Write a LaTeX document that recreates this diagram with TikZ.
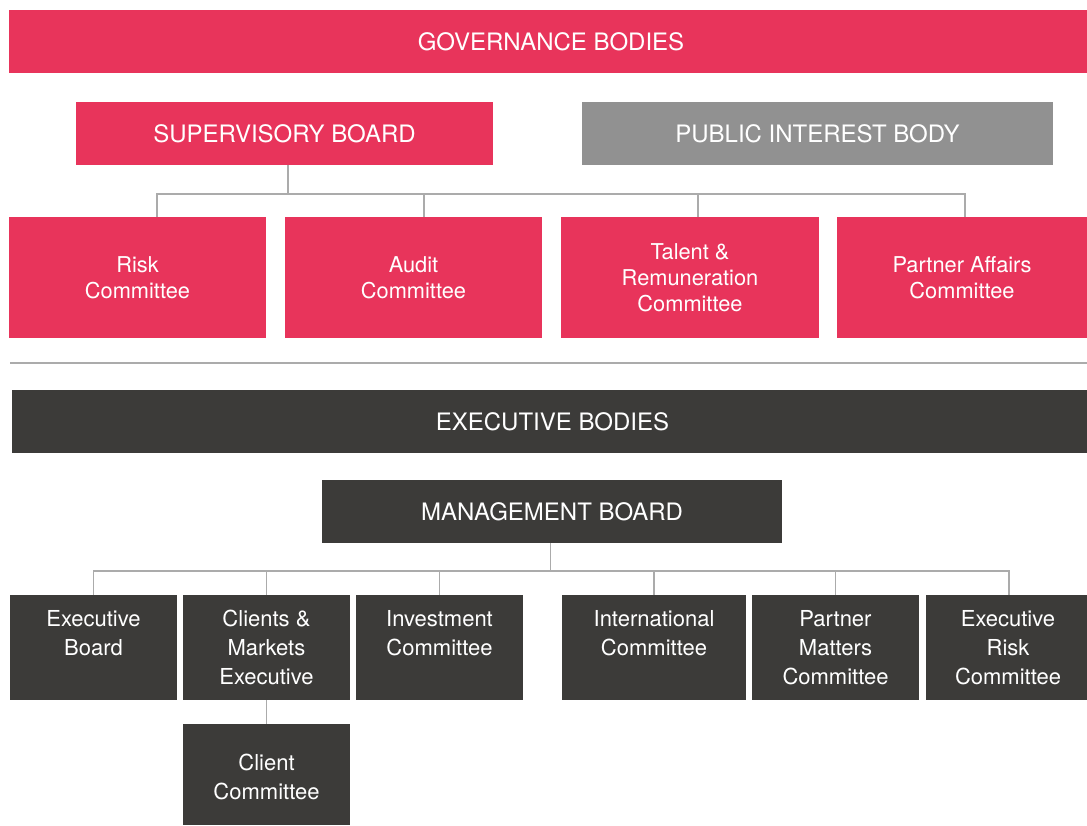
\documentclass[tikz,border=0pt]{standalone}
\usepackage{fontspec}
\setmainfont{TeX Gyre Heros}
\usetikzlibrary{calc}

\definecolor{govred}{HTML}{E8345B}
\definecolor{exgrey}{HTML}{3C3B39}
\definecolor{pibgrey}{HTML}{919191}
\definecolor{linegrey}{HTML}{ABABAB}

\newcommand{\headfont}{\fontsize{24}{28}\selectfont}
\newcommand{\topfont}{\fontsize{21.8}{26}\selectfont}
\newcommand{\lowfont}{\fontsize{22}{29}\selectfont}

\begin{document}
\begin{tikzpicture}[x=1pt, y=-1pt,
    box/.style={inner sep=0pt, outer sep=0pt, text=white, align=center},
    govbox/.style={box, fill=govred},
    exbox/.style={box, fill=exgrey},
    head/.style={font=\headfont, minimum height=63},
    topbox/.style={govbox, font=\topfont, minimum height=121},
    lowtext/.style={inner sep=0pt, anchor=north, text=white, align=center, font=\lowfont},
    lowbox/.style={exbox, minimum height=105,
        label={[lowtext, yshift=-15pt]north:{#1}}},
    conn/.style={draw=linegrey, line width=1.3pt}]

    \useasboundingbox (0,0) rectangle (1087,825);

    % governance side
    \node[govbox, head, minimum width=1078] (gov) at (548,41.5) {\hspace*{6pt}GOVERNANCE BODIES};
    \node[govbox, head, minimum width=417] (sb) at (284.5,133.5) {SUPERVISORY BOARD};
    \node[box, fill=pibgrey, head, minimum width=471] (pib) at (817.5,133.5) {PUBLIC INTEREST BODY};

    \node[topbox, minimum width=257] (rc) at (137.5,277.5) {Risk\\Committee};
    \node[topbox, minimum width=257] (ac) at (413.5,277.5) {Audit\\Committee};
    \node[topbox, minimum width=258] (trc) at (690,277.5) {Talent \&\\Remuneration\\Committee};
    \node[topbox, minimum width=250] (pac) at (962,277.5) {Partner Affairs\\Committee};

    \coordinate (gbus) at (0,194);
    \coordinate (sb-out) at ([xshift=3.5pt]sb.south);
    \coordinate (rc-in) at ([xshift=19.5pt]rc.north);
    \coordinate (ac-in) at ([xshift=10.5pt]ac.north);
    \coordinate (trc-in) at ([xshift=8pt]trc.north);
    \coordinate (pac-in) at ([xshift=3pt]pac.north);
    \draw[conn] (sb-out) -- (sb-out |- gbus);
    \draw[conn] (rc-in) |- (gbus -| pac-in) -- (pac-in);
    \draw[conn] (ac-in) -- (ac-in |- gbus);
    \draw[conn] (trc-in) -- (trc-in |- gbus);

    % separator
    \draw[conn] (10,363) -- (1087,363);

    % executive side
    \node[exbox, head, minimum width=1075] (exb) at (549.5,421.5) {\hspace*{6pt}EXECUTIVE BODIES};
    \node[exbox, head, minimum width=460] (mb) at (552,511.5) {MANAGEMENT BOARD};

    \node[lowbox={Executive\\Board}, minimum width=167] (eb) at (93.5,647.5) {};
    \node[lowbox={Clients \&\\Markets\\Executive}, minimum width=167] (cme) at (266.5,647.5) {};
    \node[lowbox={Investment\\Committee}, minimum width=167] (ic) at (439.5,647.5) {};
    \node[lowbox={International\\Committee}, minimum width=184] (intc) at (654,647.5) {};
    \node[lowbox={Partner\\Matters\\Committee}, minimum width=167] (pmc) at (835.5,647.5) {};
    \node[lowbox={\hspace*{3pt}Executive\\\hspace*{3pt}Risk\\\hspace*{3pt}Committee}, minimum width=161] (erc) at (1006.5,647.5) {};

    \node[exbox, minimum width=167, minimum height=101,
          label={[lowtext, yshift=-30pt]north:{Client\\Committee}}] (cc) at (266.5,774.5) {};

    \coordinate (ebus) at (0,571);
    \coordinate (mb-out) at ([xshift=-1.5pt]mb.south);
    \coordinate (erc-in) at ([xshift=2.5pt]erc.north);
    \draw[conn] (mb-out) -- (mb-out |- ebus);
    \draw[conn] (eb.north) |- (ebus -| erc-in) -- (erc-in);
    \draw[conn] (cme.north) -- (cme.north |- ebus);
    \draw[conn] (ic.north) -- (ic.north |- ebus);
    \draw[conn] (intc.north) -- (intc.north |- ebus);
    \draw[conn] (pmc.north) -- (pmc.north |- ebus);
    \draw[conn] (cme.south) -- (cc.north);

\end{tikzpicture}
\end{document}
